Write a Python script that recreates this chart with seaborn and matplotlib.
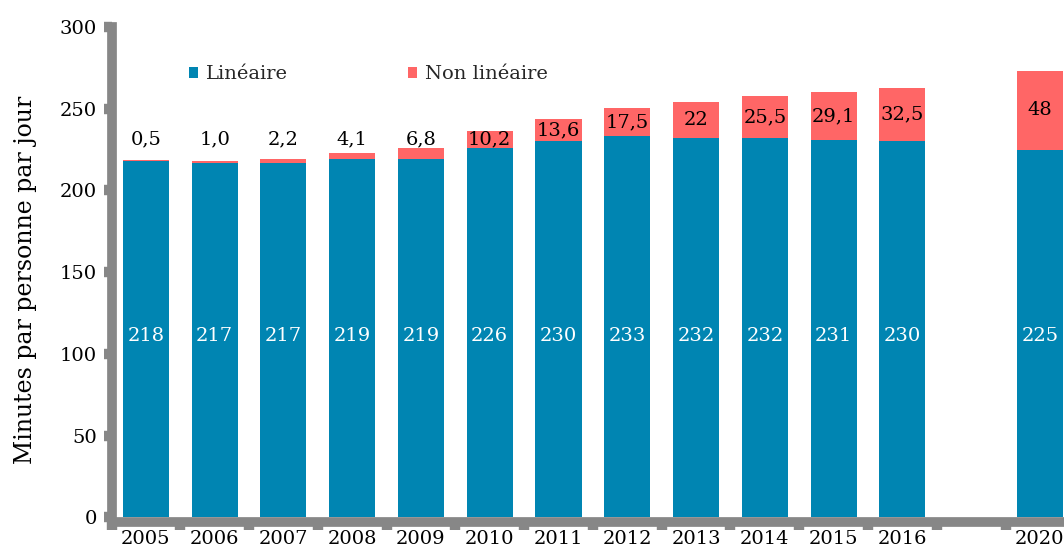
import numpy as np
import pandas as pd
import matplotlib
matplotlib.use("Agg")
import matplotlib.pyplot as plt
import seaborn as sns
from matplotlib.patches import Patch

# Temps passé devant les programmes vidéo, par jour et par personne
annees = ["2005", "2006", "2007", "2008", "2009", "2010", "2011",
          "2012", "2013", "2014", "2015", "2016", "2020"]
lineaire = [218, 217, 217, 219, 219, 226, 230, 233, 232, 232, 231, 230, 225]
non_lineaire = [0.5, 1.0, 2.2, 4.1, 6.8, 10.2, 13.6, 17.5, 22, 25.5, 29.1, 32.5, 48]
etiquettes_nl = ["0,5", "1,0", "2,2", "4,1", "6,8", "10,2", "13,6",
                 "17,5", "22", "25,5", "29,1", "32,5", "48"]
graduations_y = [0, 50, 100, 150, 200, 250, 300]

BLEU = "#0085B2"
ROUGE = "#FF6666"
GRIS = "#878787"

sns.set_theme(style="white")
plt.rcParams["font.family"] = ["DejaVu Serif"]

df = pd.DataFrame({"annee": annees, "lin": lineaire, "nonlin": non_lineaire})
df["total"] = df["lin"] + df["nonlin"]

# an empty slot separates 2016 from 2020
ordre = annees[:12] + [" "] + annees[12:]

fig = plt.figure(figsize=(10.64, 5.47), dpi=100)
ax = fig.add_axes([111.5 / 1064, (547 - 522) / 547, (1064 - 111.5) / 1064, (522 - 27) / 547])

sns.barplot(data=df, x="annee", y="total", order=ordre, color=ROUGE,
            saturation=1, width=0.67, errorbar=None, linewidth=0, ax=ax)
sns.barplot(data=df, x="annee", y="lin", order=ordre, color=BLEU,
            saturation=1, width=0.67, errorbar=None, linewidth=0, ax=ax)

fs = 14
for an, lin, nl, lab in zip(annees, lineaire, non_lineaire, etiquettes_nl):
    pos = ordre.index(an)
    ax.text(pos, 111, str(lin), color="white", ha="center", va="center", fontsize=fs)
    y_nl = max(lin + nl / 2, 231.5)
    ax.text(pos, y_nl, lab, color="black", ha="center", va="center", fontsize=fs)

ax.set_xlim(-0.5, 13.35)
ax.set_ylim(-2.9, 300)
ax.set_yticks(graduations_y)
ax.set_yticklabels([str(v) for v in graduations_y], fontsize=fs)

ax.set_xticks(range(len(ordre)))
ax.set_xticklabels(ordre, fontsize=fs)
ax.set_xticks(np.arange(-0.5, len(ordre) - 1, 1.0), minor=True)
ax.tick_params(axis="x", which="both", bottom=True)
ax.tick_params(axis="y", which="both", left=True)
ax.tick_params(axis="x", which="major", length=0, pad=6, colors="black")
ax.tick_params(axis="x", which="minor", length=6, width=7.5, color=GRIS, direction="out")
ax.tick_params(axis="y", which="major", length=5.5, width=7.5, color=GRIS, direction="out",
               pad=5, labelcolor="black")
ax.tick_params(axis="y", which="minor", length=0)

for s in ["top", "right"]:
    ax.spines[s].set_visible(False)
for s in ["left", "bottom"]:
    ax.spines[s].set_color(GRIS)
    ax.spines[s].set_linewidth(7)

ax.set_xlabel("")
ax.set_ylabel("Minutes par personne par jour", fontsize=17, color="black")
ax.yaxis.set_label_coords(-0.078, 0.49)

poignees = [Patch(facecolor=BLEU, edgecolor="none", label="Linéaire"),
            Patch(facecolor=ROUGE, edgecolor="none", label="Non linéaire")]
ax.legend(handles=poignees, loc="center left", bbox_to_anchor=(0.081, 0.905),
          ncol=2, frameon=False, fontsize=fs, handlelength=0.5, handleheight=0.5,
          handletextpad=0.4, columnspacing=6.15, borderaxespad=0, borderpad=0)

fig.savefig("out.png", dpi=100)
